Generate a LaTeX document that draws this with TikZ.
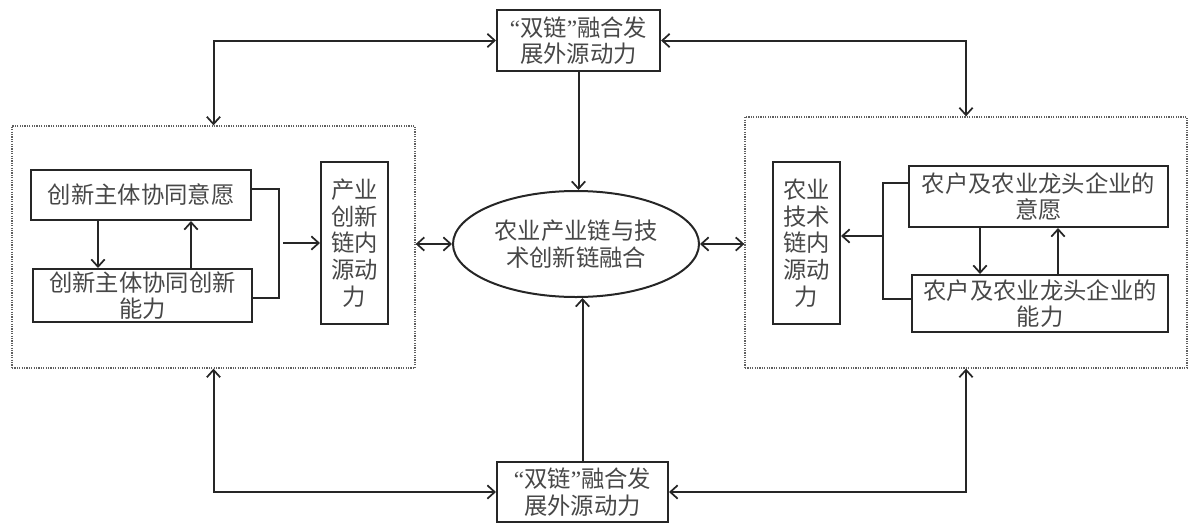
\documentclass[tikz,border=0pt]{standalone}
\usepackage{fontspec}
\usetikzlibrary{arrows.meta,shapes.geometric}
\newfontfamily\cjk{Noto Sans CJK SC}
\newfontfamily\qfont{Liberation Serif}
\newcommand{\myLq}{{\qfont “}}
\newcommand{\myRq}{{\qfont ”}}
\definecolor{ink}{HTML}{262626}
\definecolor{dotc}{HTML}{606060}
\tikzset{
  box/.style={draw=ink, line width=1.5pt, rectangle, inner sep=1pt, align=center,
    font=\cjk\fontsize{17.5}{20}\selectfont, text=ink!85},
  dotbox/.style={draw=dotc, line width=1pt, dash pattern=on 0.9pt off 0.9pt, rectangle, inner sep=0pt},
  conn/.style={draw=ink, line width=1.5pt},
  arr/.style={conn, -{Straight Barb[length=5.5pt,width=10pt,line width=1.3pt]}},
  darr/.style={conn, {Straight Barb[length=5.5pt,width=10pt,line width=1.3pt]}-{Straight Barb[length=5.5pt,width=10pt,line width=1.3pt]}},
}
\begin{document}
\begin{tikzpicture}[x=0.75pt,y=-0.75pt]
\useasboundingbox (0,0) rectangle (1194,525);
% outer boxes
\node[box, minimum width=122.25pt, minimum height=45.75pt] (T) at (578.5,40.5) {\myLq 双链\myRq 融合发\\展外源动力};
\node[box, minimum width=128.25pt, minimum height=45pt] (B) at (582.5,492) {\myLq 双链\myRq 融合发\\展外源动力};
\node[box, ellipse, inner sep=0pt, minimum width=184.5pt, minimum height=79.5pt] (E) at (576,244) {农业产业链与技\\术创新链融合};
\node[dotbox, minimum width=302.25pt, minimum height=181.5pt] (L) at (213.5,247) {};
\node[dotbox, minimum width=331.5pt, minimum height=188.25pt] (R) at (966,242.5) {};
% left inner
\node[box, minimum width=165pt, minimum height=37.5pt] (A1) at (141,195) {创新主体协同意愿};
\node[box, minimum width=164.25pt, minimum height=39.75pt] (A2) at (142.5,295.5) {创新主体协同创新\\能力};
\node[box, minimum width=50.25pt, minimum height=121.5pt] (C) at (354.5,243) {产业\\创新\\链内\\源动\\力};
% right inner
\node[box, minimum width=50.25pt, minimum height=121.5pt] (D) at (806.5,243) {农业\\技术\\链内\\源动\\力};
\node[box, minimum width=194.25pt, minimum height=45.75pt] (E1) at (1038.5,196.5) {农户及农业龙头企业的\\意愿};
\node[box, minimum width=192pt, minimum height=42.75pt] (E2) at (1040,303.5) {农户及农业龙头企业的\\能力};
% outer connectors
\draw[darr] (L.north) |- (T.west);
\draw[darr] (R.north) |- (T.east);
\draw[darr] (L.south) |- (B.west);
\draw[darr] (R.south) |- (B.east);
\draw[arr] (T.south) -- (T.south |- E.north);
\draw[arr] (B.north) -- (B.north |- E.south);
\draw[darr] (E.west) -- (E.west -| L.east);
\draw[darr] (E.east) -- (E.east -| R.west);
% left inner connectors
\draw[arr] (A1.south -| 98,0) -- (A2.north -| 98,0);
\draw[arr] (A2.north -| 191,0) -- (A1.south -| 191,0);
\coordinate (lk1) at (279,189);
\coordinate (lk2) at (279,298);
\coordinate (jl) at (283,243);
\draw[conn] (A1.east |- lk1) -- (lk1) -- (lk2) -- (A2.east |- lk2);
\draw[arr] (jl) -- (C.west |- jl);
% right inner connectors
\draw[arr] (E1.south -| 980,0) -- (E2.north -| 980,0);
\draw[arr] (E2.north -| 1058,0) -- (E1.south -| 1058,0);
\coordinate (rk1) at (883,183);
\coordinate (rk2) at (883,299);
\coordinate (jr) at (883,236);
\draw[conn] (E1.west |- rk1) -- (rk1) -- (rk2) -- (E2.west |- rk2);
\draw[arr] (jr) -- (D.east |- jr);
\end{tikzpicture}
\end{document}
